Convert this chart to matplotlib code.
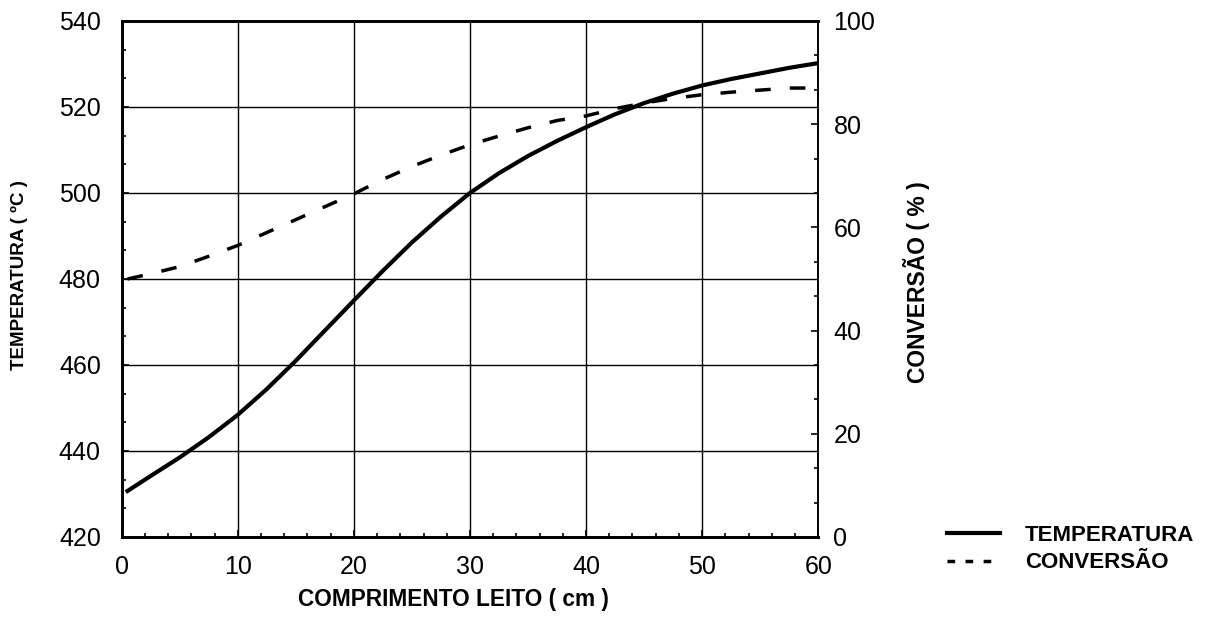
import numpy as np
import matplotlib
matplotlib.use('Agg')
import matplotlib.pyplot as plt
from matplotlib.lines import Line2D
from matplotlib.ticker import AutoMinorLocator, MultipleLocator

plt.rcParams['font.family'] = ['Liberation Sans', 'DejaVu Sans']

# bed length (cm) and the two profiles
comprimento = [0.5, 2.5, 5, 7.5, 10, 12.5, 15, 17.5, 20, 22.5, 25, 27.5, 30,
               32.5, 35, 37.5, 40, 42.5, 45, 47.5, 50, 52.5, 55, 57.5, 60]
temperatura = [430.7, 434.2, 438.5, 443.2, 448.4, 454.4, 461.0, 468.0, 475.0,
               481.9, 488.5, 494.5, 500.0, 504.6, 508.6, 512.1, 515.3, 518.3,
               520.9, 523.1, 525.0, 526.5, 527.8, 529.1, 530.2]
conversao = [50.0, 51.0, 52.4, 54.4, 56.5, 59.0, 61.5, 64.0, 66.5, 69.3, 71.8,
             74.0, 76.0, 77.7, 79.3, 80.7, 81.6, 83.0, 84.1, 85.0, 85.7, 86.2,
             86.6, 87.0, 87.0]

fig = plt.figure(figsize=(12.05, 6.22), dpi=100)
ax = fig.add_axes([0.101, 0.1367, 0.578, 0.8296])
ax2 = ax.twinx()

l1, = ax.plot(comprimento, temperatura, color='black', lw=3.0,
              label='TEMPERATURA')
ax2.plot(comprimento, conversao, color='black', lw=2.5, dashes=(4.5, 5.5))

ax.set_xlim(0, 60)
ax.set_ylim(420, 540)
ax2.set_ylim(0, 100)

ax.xaxis.set_major_locator(MultipleLocator(10))
ax.yaxis.set_major_locator(MultipleLocator(20))
ax2.yaxis.set_major_locator(MultipleLocator(20))
ax.xaxis.set_minor_locator(AutoMinorLocator(5))
ax.yaxis.set_minor_locator(AutoMinorLocator(3))
ax2.yaxis.set_minor_locator(AutoMinorLocator(3))

ax.grid(True, which='major', color='black', lw=1.0)

for a in (ax, ax2):
    a.tick_params(which='both', direction='in', labelsize=18, width=1.2)
    a.tick_params(which='major', length=5)
    a.tick_params(which='minor', length=3)
    for s in a.spines.values():
        s.set_linewidth(2.0)
    a.spines['right'].set_linewidth(1.2)
ax.tick_params(axis='x', pad=13)
ax.tick_params(axis='y', pad=15)
ax2.tick_params(axis='y', pad=11)

ax.set_xlabel('COMPRIMENTO LEITO ( cm )', fontsize=16.3, fontweight='bold')
ax.xaxis.set_label_coords((453 - 122) / 696, -(600 - 537) / 517)
ax.xaxis.label.set_va('center')
ax.set_ylabel('TEMPERATURA ( ºC )', fontsize=13.5, fontweight='bold')
ax.yaxis.set_label_coords(-(122 - 20) / 696, (537 - 275) / 517)
ax.yaxis.label.set_va('center')
ax2.set_ylabel('CONVERSÃO ( % )', fontsize=16.5, fontweight='bold')
ax2.yaxis.set_label_coords(1 + (916 - 818) / 696, (537 - 282) / 517)
ax2.yaxis.label.set_va('center')

# legend handle for the dashed series uses shorter dashes, as in the original
l2 = Line2D([], [], color='black', lw=2.5, dashes=(2.2, 3.0), label='CONVERSÃO')
fig.legend(handles=[l1, l2], loc='center left',
           bbox_to_anchor=(947 / 1205, 1 - 549 / 622), frameon=False,
           prop={'size': 16, 'weight': 'bold'}, handlelength=2.4,
           handletextpad=1.1, labelspacing=0.3, borderpad=0,
           borderaxespad=0)

fig.savefig('out.png', dpi=100)
